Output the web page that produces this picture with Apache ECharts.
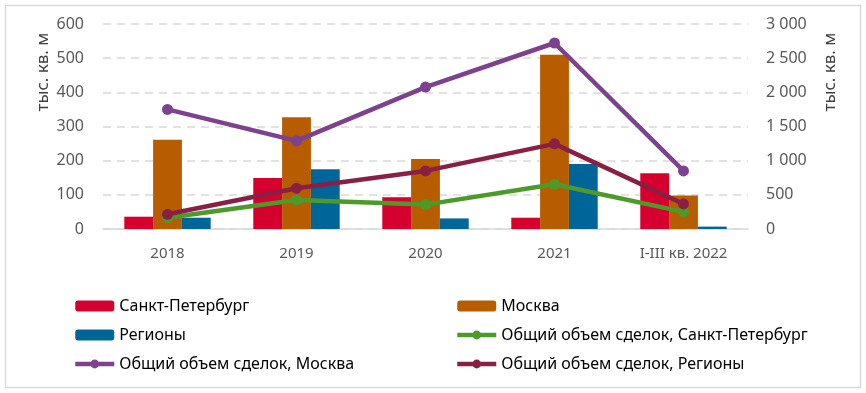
<!DOCTYPE html>
<html><head><meta charset="utf-8">
<script src="https://cdn.jsdelivr.net/npm/echarts@6/dist/echarts.min.js"></script>
<style>html,body{margin:0;padding:0;background:#fff}#c{width:866px;height:393px}</style>
</head><body><div id="c"></div>
<script>
const categories = ['2018', '2019', '2020', '2021', 'I-III кв. 2022'];
const spb = [36, 149, 93, 33, 163];
const msk = [261, 327, 205, 510, 98];
const reg = [33, 175, 31, 190, 7];
const totalSpb = [166, 425, 357, 655, 250];
const totalMsk = [1750, 1290, 2077, 2722, 850];
const totalReg = [215, 597, 850, 1246, 367];
const leftTicks = [0, 100, 200, 300, 400, 500, 600];
const rightTicks = [0, 500, 1000, 1500, 2000, 2500, 3000];
const names = ['Санкт-Петербург', 'Москва', 'Регионы',
  'Общий объем сделок, Санкт-Петербург', 'Общий объем сделок, Москва', 'Общий объем сделок, Регионы'];
const axisTitle = 'тыс. кв. м';

const colors = ['#D6002F', '#B85C00', '#006699', '#4C9A2A', '#7D4190', '#8A1F45'];
const font = 'Noto Sans';
const chart = echarts.init(document.getElementById('c'), null, {renderer: 'canvas'});

function fmt(v) { return String(v).replace(/\B(?=(\d{3})+(?!\d))/g, ' '); }

const barSeries = [spb, msk, reg].map((d, i) => ({
  name: names[i], type: 'bar', yAxisIndex: 0, data: d,
  barGap: '0%', barCategoryGap: '33%',
  itemStyle: {color: colors[i]}, z: 2
}));
const lineSeries = [totalSpb, totalMsk, totalReg].map((d, i) => ({
  name: names[3 + i], type: 'line', yAxisIndex: 1, data: d,
  symbol: 'circle', symbolSize: 11,
  lineStyle: {width: 4.5, color: colors[3 + i]},
  itemStyle: {color: colors[3 + i]}, z: 3
}));

const legendCommon = {
  orient: 'vertical', itemWidth: 39, itemHeight: 11, itemGap: 11, padding: 0,
  textStyle: {fontFamily: font, fontSize: 16, color: '#000', lineHeight: 18},
  lineStyle: {width: 4.5},
  selectedMode: false
};

chart.setOption({
  animation: false,
  color: colors,
  grid: {left: 103, right: 118, top: 24, bottom: 164},
  xAxis: {
    type: 'category', data: categories,
    axisLine: {show: true, lineStyle: {color: '#d9d9d9', width: 1.5}},
    axisTick: {show: false},
    axisLabel: {fontFamily: font, fontSize: 15, color: '#595959', margin: 17}
  },
  yAxis: [{
    type: 'value', min: leftTicks[0], max: leftTicks[leftTicks.length - 1], interval: 100,
    axisLine: {show: false}, axisTick: {show: false},
    axisLabel: {fontFamily: font, fontSize: 16, color: '#595959', margin: 19},
    splitLine: {show: true, lineStyle: {color: '#d9d9d9', type: [8, 6], width: 1.5}}
  }, {
    type: 'value', min: rightTicks[0], max: rightTicks[rightTicks.length - 1], interval: 500,
    axisLine: {show: false}, axisTick: {show: false},
    axisLabel: {fontFamily: font, fontSize: 16, color: '#595959', margin: 18, formatter: fmt},
    splitLine: {show: false}
  }],
  legend: [
    Object.assign({}, legendCommon, {left: 73, top: 297,
      data: [names[0], names[2], names[4]]}),
    Object.assign({}, legendCommon, {left: 455, top: 297,
      data: [names[1], names[3], names[5]]})
  ],
  graphic: [
    {type: 'rect', left: 3, top: 3, shape: {width: 855, height: 382},
      style: {fill: 'none', stroke: '#d9d9d9', lineWidth: 1.5}, silent: true, z: -1},
    {type: 'text', x: 43, y: 72, rotation: Math.PI / 2,
      style: {text: axisTitle, fontFamily: font, fontSize: 17, fill: '#404040', align: 'center', verticalAlign: 'middle'}},
    {type: 'text', x: 830, y: 72, rotation: Math.PI / 2,
      style: {text: axisTitle, fontFamily: font, fontSize: 17, fill: '#404040', align: 'center', verticalAlign: 'middle'}}
  ],
  series: barSeries.concat(lineSeries)
});
</script></body></html>
